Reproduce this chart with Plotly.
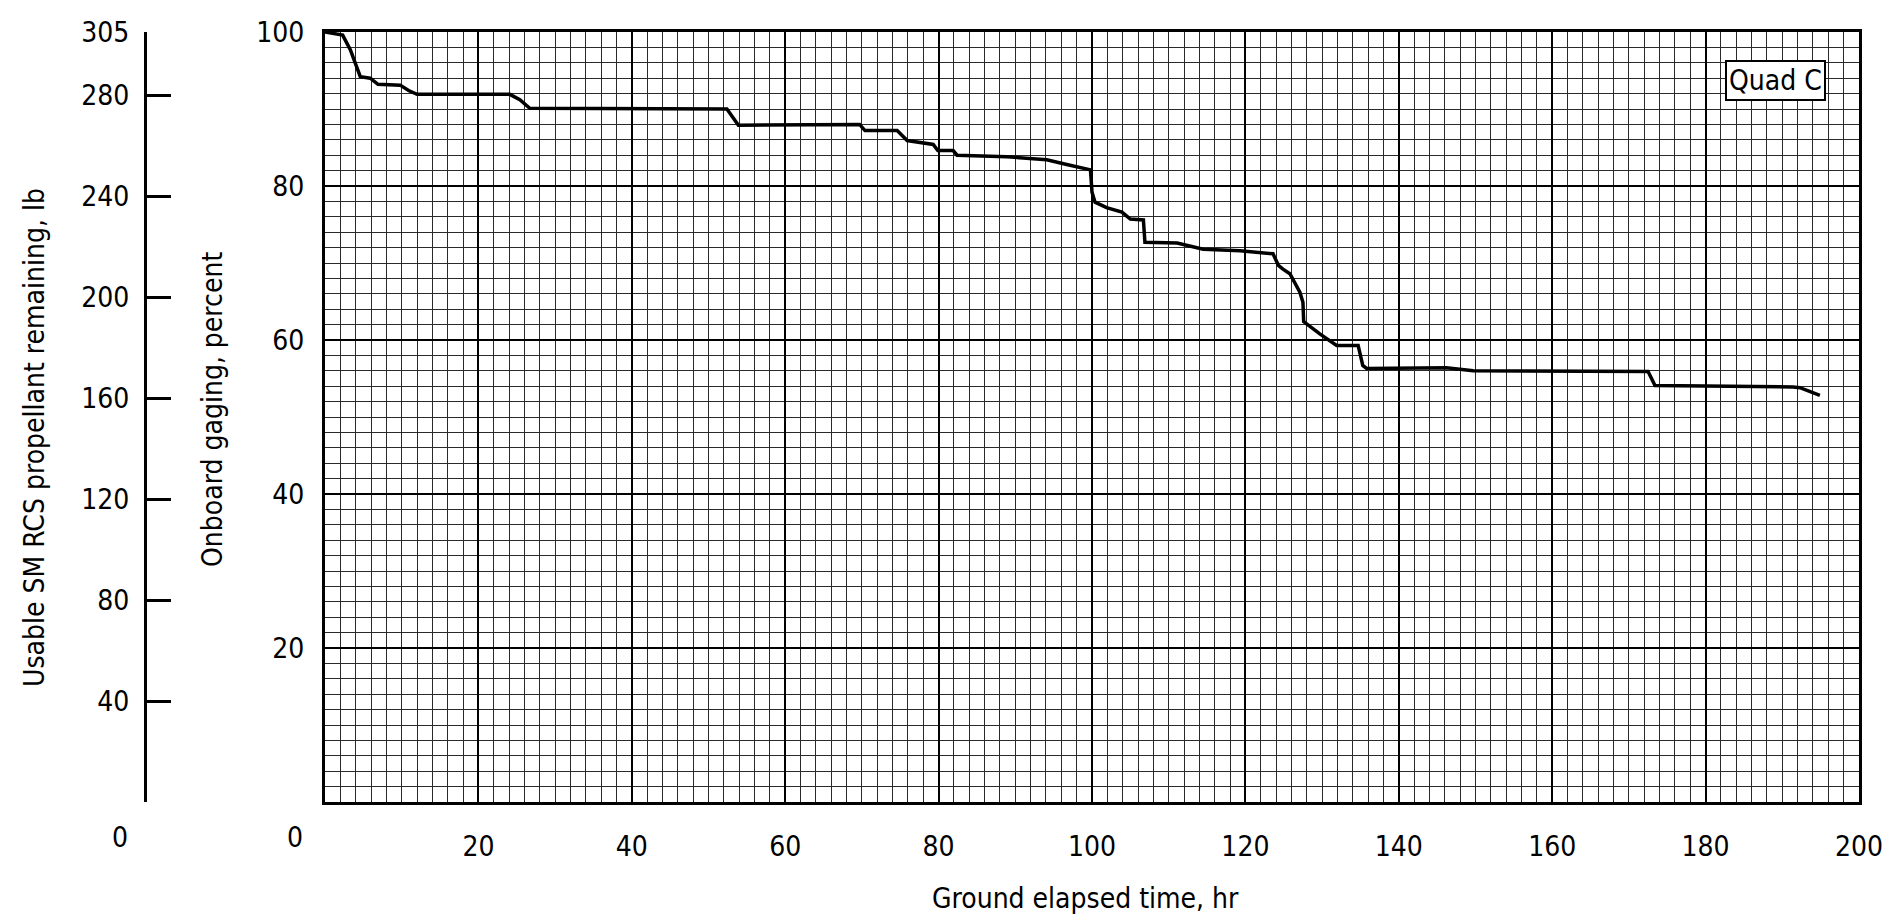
import plotly.graph_objects as go

# Data (Quad C onboard gaging vs ground elapsed time)
time_hr = [0, 2.3, 3.3, 4.1, 4.6, 5.9, 6.9, 9.8, 10.9, 12.0, 24.1, 25.4, 26.7,
           52.4, 53.9, 69.7, 70.4, 74.6, 75.9, 79.3, 79.9, 81.9, 82.4, 88.9,
           94.1, 96.7, 98.8, 99.8, 100.0, 100.4, 101.9, 103.9, 105.0, 106.7,
           106.9, 111.1, 114.5, 119.3, 123.6, 124.3, 124.9, 125.8, 127.1,
           127.5, 127.6, 129.7, 131.9, 134.7, 135.3, 135.8, 146.2, 149.7,
           172.5, 173.4, 191.4, 192.3, 194.9]
gaging_pct = [100, 99.6, 97.7, 95.5, 94.2, 94.0, 93.2, 93.1, 92.4, 91.9, 91.9,
              91.2, 90.1, 90.0, 87.9, 88.0, 87.2, 87.2, 85.9, 85.4, 84.6, 84.6,
              84.0, 83.8, 83.4, 82.8, 82.3, 82.1, 79.2, 77.9, 77.2, 76.6, 75.7,
              75.6, 72.7, 72.6, 71.8, 71.6, 71.2, 69.7, 69.2, 68.6, 66.2, 64.9,
              62.4, 60.8, 59.3, 59.3, 56.7, 56.3, 56.4, 56.0, 55.9, 54.1, 53.9,
              53.8, 52.8]

x_ticks = [20, 40, 60, 80, 100, 120, 140, 160, 180, 200]
pct_ticks = [20, 40, 60, 80, 100]
lb_ticks = [0, 40, 80, 120, 160, 200, 240, 280, 305]
lb_ticktext = ["", "40", "80", "120", "160", "200", "240", "280", "305"]

FONT = "Liberation Sans Narrow, DejaVu Sans Condensed, Roboto Condensed, Liberation Sans, sans-serif"
W, H = 1891, 919
ML, MR, MT, MB = 0, 32, 32, 117
PW, PH = W - ML - MR, H - MT - MB
PLOT_LEFT = 325


def px(x):
    return (x - ML) / PW


def py(y):
    return (H - MB - y) / PH


fig = go.Figure()
fig.add_trace(go.Scatter(x=time_hr, y=gaging_pct, mode="lines",
                         line=dict(color="black", width=3.5),
                         showlegend=False, hoverinfo="skip"))
fig.add_trace(go.Scatter(x=[], y=[], yaxis="y2", showlegend=False))

fig.update_layout(
    width=W, height=H,
    margin=dict(l=ML, r=MR, t=MT, b=MB),
    paper_bgcolor="white", plot_bgcolor="white",
    font=dict(family=FONT, size=28, color="black"),
    xaxis=dict(
        domain=[px(PLOT_LEFT), 1], range=[0, 200],
        tickmode="array", tickvals=x_ticks,
        showgrid=True, gridcolor="black", gridwidth=2,
        minor=dict(dtick=2, tick0=0, showgrid=True, gridcolor="#2a2a2a", gridwidth=1),
        showline=True, linecolor="black", linewidth=3, mirror=True,
        ticks="", ticklabelstandoff=17, zeroline=False, automargin=False,
        fixedrange=True,
    ),
    yaxis=dict(
        range=[0, 100], tickmode="array", tickvals=pct_ticks,
        showgrid=True, gridcolor="black", gridwidth=2,
        minor=dict(dtick=2, tick0=0, showgrid=True, gridcolor="#2a2a2a", gridwidth=1),
        showline=True, linecolor="black", linewidth=3, mirror=True,
        ticks="", ticklabelstandoff=12, zeroline=False, automargin=False,
        fixedrange=True,
    ),
    yaxis2=dict(
        overlaying="y", anchor="free", position=px(145), side="left",
        range=[0, 305], tickmode="array", tickvals=lb_ticks, ticktext=lb_ticktext,
        showgrid=False, showline=True, linecolor="black", linewidth=3,
        ticks="inside", ticklen=24, tickwidth=2.5, tickcolor="black",
        ticklabelstandoff=9, zeroline=False, automargin=False, fixedrange=True,
    ),
    annotations=[
        dict(text="0", x=px(120), y=py(837), xref="paper", yref="paper",
             showarrow=False, xanchor="center", yanchor="middle"),
        dict(text="0", x=px(295), y=py(837), xref="paper", yref="paper",
             showarrow=False, xanchor="center", yanchor="middle"),
        dict(text="Ground elapsed time, hr", x=px(1085), y=py(898),
             xref="paper", yref="paper", showarrow=False,
             xanchor="center", yanchor="middle"),
        dict(text="Onboard gaging, percent", x=px(212), y=py(410),
             xref="paper", yref="paper", showarrow=False, textangle=-90,
             xanchor="center", yanchor="middle"),
        dict(text="Usable SM RCS propellant remaining, lb", x=px(34), y=py(438),
             xref="paper", yref="paper", showarrow=False, textangle=-90,
             xanchor="center", yanchor="middle"),
        dict(text="Quad C", x=px(1775), y=py(80), xref="paper", yref="paper",
             showarrow=False, xanchor="center", yanchor="middle",
             bgcolor="white", bordercolor="black", borderwidth=2, borderpad=2),
    ],
)

fig.write_html("out.html", config={"displayModeBar": False},
               post_script="document.body.style.margin='0';document.body.style.overflow='hidden';")
